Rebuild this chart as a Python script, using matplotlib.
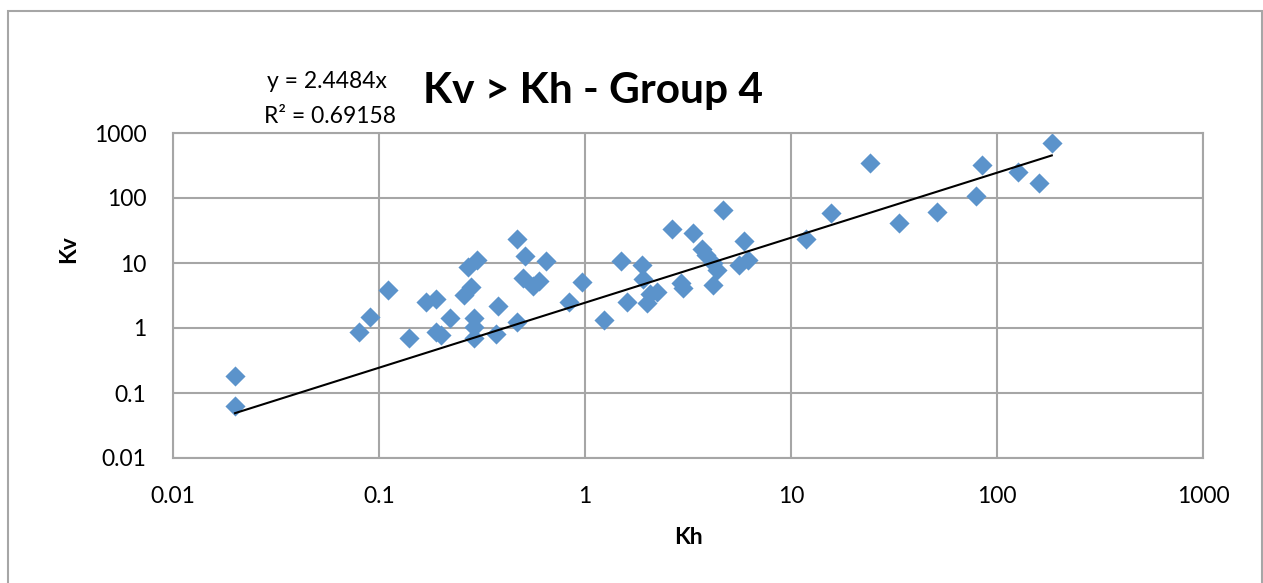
import matplotlib
matplotlib.use("Agg")
import matplotlib.pyplot as plt
from matplotlib.patches import Rectangle

kh = [0.02, 0.02, 0.08, 0.09, 0.11, 0.14, 0.17, 0.19, 0.19, 0.20, 0.22, 0.26, 0.27, 0.28,
      0.30, 0.29, 0.29, 0.29, 0.37, 0.38, 0.47, 0.47, 0.50, 0.51, 0.56, 0.60, 0.65, 0.84,
      0.97, 1.24, 1.49, 1.60, 1.90, 1.92, 1.99, 2.07, 2.24, 2.64, 2.94, 3.0, 3.36, 3.71,
      3.87, 4.17, 4.17, 4.36, 4.69, 5.6, 5.93, 6.21, 11.8, 15.7, 24.2, 33.6, 51.3, 79.0,
      84.3, 126.0, 160.0, 184.5]
kv = [0.18, 0.063, 0.88, 1.5, 3.8, 0.70, 2.55, 2.8, 0.86, 0.78, 1.43, 3.25, 8.8, 4.3,
      11.2, 1.45, 1.05, 0.70, 0.82, 2.2, 23.5, 1.25, 5.8, 12.6, 4.5, 5.3, 10.8, 2.5,
      5.1, 1.33, 10.7, 2.5, 9.4, 5.6, 2.45, 3.3, 3.6, 33.0, 4.9, 4.1, 29.0, 16.5,
      13.5, 9.9, 4.6, 7.8, 66.0, 9.3, 21.5, 11.3, 23.5, 58.0, 340.0, 41.0, 61.0, 108.0,
      320.0, 248.0, 172.0, 700.0]

slope = 2.4484
title = "Kv > Kh - Group 4"
eq_label = "y = 2.4484x"
r2_label = "R² = 0.69158"
xlabel = "Kh"
ylabel = "Kv"
xticks = [0.01, 0.1, 1, 10, 100, 1000]
yticks = [0.01, 0.1, 1, 10, 100, 1000]
ticklabels = ["0.01", "0.1", "1", "10", "100", "1000"]

plt.rcParams['font.family'] = ['Lato', 'DejaVu Sans']

W, H = 1263, 583
fig = plt.figure(figsize=(W / 100, H / 100), dpi=100)
fig.patches.append(Rectangle((8 / W, -0.1), (1262 - 8) / W, 1.1 - 11 / H,
                             transform=fig.transFigure, fill=False,
                             edgecolor='#A6A6A6', linewidth=1.5))

ax = fig.add_axes([173 / W, 1 - 458 / H, (1203 - 173) / W, (458 - 133) / H])
ax.set_xscale('log')
ax.set_yscale('log')
ax.set_xlim(0.01, 1000)
ax.set_ylim(0.01, 1000)
ax.set_xticks(xticks)
ax.set_xticklabels(ticklabels)
ax.set_yticks(yticks)
ax.set_yticklabels(ticklabels)
ax.minorticks_off()
ax.tick_params(axis='x', which='major', length=0, labelsize=16.5, pad=20, colors='#000000')
ax.tick_params(axis='y', which='major', length=0, labelsize=16.5, pad=19, colors='#000000')
ax.grid(True, color='#A6A6A6', linewidth=1.5)
ax.set_axisbelow(True)
for s in ax.spines.values():
    s.set_color('#A6A6A6')
    s.set_linewidth(1.5)

x0, x1 = min(kh), max(kh)
ax.plot([x0, x1], [slope * x0, slope * x1], color='black', linewidth=1.5, zorder=3)
ax.scatter(kh, kv, marker='D', s=105, color='#5B93CB', linewidths=0, zorder=2)

fig.text(688 / W, 1 - 544 / H, xlabel, fontsize=16.5, fontweight='bold',
         ha='center', va='baseline')
fig.text(69 / W, 1 - 249 / H, ylabel, fontsize=16.5, fontweight='bold',
         ha='center', va='center', rotation=90)

fig.text(593 / W, 1 - 103 / H, title, fontsize=30.5, fontweight='bold',
         ha='center', va='baseline')
fig.text(327 / W, 1 - 88.5 / H, eq_label, fontsize=16.5, ha='center', va='baseline')
fig.text(330 / W, 1 - 123 / H, r2_label, fontsize=16.5, ha='center', va='baseline')

fig.savefig("out.png", dpi=100, facecolor='white')
